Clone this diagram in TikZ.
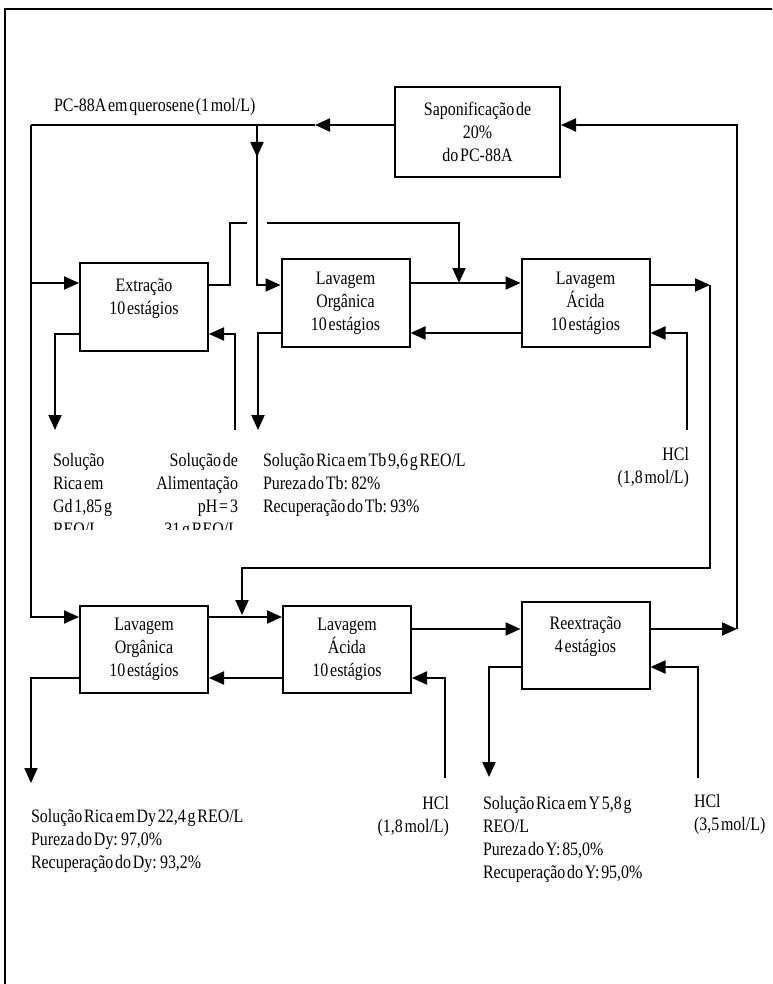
\documentclass[tikz,border=0pt]{standalone}
\usepackage{fontspec}
\setmainfont{Liberation Serif}[FakeStretch=0.84,WordSpace=0.45]
\usetikzlibrary{arrows.meta}

\begin{document}
\begin{tikzpicture}[x=10pt, y=-10pt, line width=2pt,
    every node/.style={font=\fontsize{19}{23}\selectfont},
    stage/.style={draw, align=center, inner sep=0pt, minimum width=128pt, minimum height=88pt},
    note/.style={align=left, inner sep=0pt},
    flow/.style={-{Triangle[length=15pt, width=13pt]}}]
    \useasboundingbox (0,0) rectangle (77.2,98.4);
    \clip (0,0) rectangle (77.2,98.4);
    \draw[line width=2.4pt] (0.5,0.9) rectangle (80,101);

    % stages
    \node[stage, minimum width=165pt, minimum height=90pt] (sap) at (47.75,13.2) {Saponificação de\\20\%\\do PC-88A};
    \node[stage] (ext) at (14.4,30.7) {};
    \node[align=center, inner sep=0pt] (extt) at (14.4,29.85) {Extração\\10 estágios};
    \node[stage] (lo1) at (34.55,30.3) {Lavagem\\Orgânica\\10 estágios};
    \node[stage] (la1) at (58.55,30.3) {Lavagem\\Ácida\\10 estágios};
    \node[stage, minimum height=87pt] (lo2) at (14.4,64.95) {Lavagem\\Orgânica\\10 estágios};
    \node[stage, minimum height=87pt] (la2) at (34.7,64.95) {Lavagem\\Ácida\\10 estágios};
    \node[stage, minimum height=87pt] (rex) at (58.55,64.55) {};
    \node[align=center, inner sep=0pt] (rext) at (58.55,63.65) {Reextração\\4 estágios};

    % free ends
    \coordinate (org) at (3.1,12.5);
    \coordinate (split) at (25.7,12.5);
    \coordinate (alim) at (23.5,43.0);
    \coordinate (gd) at (5.5,43.0);
    \coordinate (tb) at (25.8,43.0);
    \coordinate (hclA) at (68.7,43.0);
    \coordinate (dy) at (3.1,78.3);
    \coordinate (hclB) at (44.5,77.8);
    \coordinate (yy) at (48.9,77.7);
    \coordinate (hclC) at (69.8,77.8);

    % organic feed
    \draw[flow] (sap.west |- org) -- (31.5,12.5);
    \draw (org) -- (31.5,12.5);
    \draw[flow] (org) -- (3.1,61.7) -- (lo2.west |- 0,61.7);
    \draw[flow] (3.1,28.3) -- (ext.west |- 0,28.3);
    \draw[flow] (split) -- (25.7,15.7);
    \draw[flow] (25.7,15.5) -- (25.7,28.5) -- (lo1.west |- 0,28.5);

    % first bank
    \draw[flow] (ext.east |- 0,28.5) -- (23.0,28.5) -- (23.0,22.3) -- (24.7,22.3)
        (26.7,22.3) -- (45.9,22.3) -- (45.9,28.3);
    \draw[flow] (lo1.east |- 0,28.3) -- (la1.west |- 0,28.3);
    \draw[flow] (la1.west |- 0,33.3) -- (lo1.east |- 0,33.3);
    \draw[flow] (lo1.west |- 0,33.3) -- (tb |- 0,33.3) -- (tb);
    \draw[flow] (ext.west |- 0,33.4) -- (gd |- 0,33.4) -- (gd);
    \draw[flow] (alim) -- (alim |- 0,33.4) -- (ext.east |- 0,33.4);
    \draw[flow] (hclA) -- (hclA |- 0,33.3) -- (la1.east |- 0,33.3);
    \draw[flow] (la1.east |- 0,28.5) -- (71.0,28.5);
    \draw[flow] (71.0,28.5) -- (71.0,56.8) -- (24.2,56.8) -- (24.2,61.5);

    % second bank
    \draw[flow] (lo2.east |- 0,61.7) -- (la2.west |- 0,61.7);
    \draw[flow] (la2.east |- 0,62.9) -- (rex.west |- 0,62.9);
    \draw[flow] (rex.east |- 0,62.9) -- (73.7,62.9);
    \draw[flow] (73.7,62.9) -- (73.7,12.5) -- (sap.east |- 0,12.5);
    \draw[flow] (la2.west |- 0,67.8) -- (lo2.east |- 0,67.8);
    \draw[flow] (lo2.west |- 0,67.8) -- (dy |- 0,67.8) -- (dy);
    \draw[flow] (hclB) -- (hclB |- 0,67.8) -- (la2.east |- 0,67.8);
    \draw[flow] (rex.west |- 0,66.7) -- (yy |- 0,66.7) -- (yy);
    \draw[flow] (hclC) -- (hclC |- 0,66.7) -- (rex.east |- 0,66.7);

    % labels
    \node[anchor=base west, inner sep=0pt] (pcl) at (5.3,11.2) {PC-88A em querosene (1 mol/L)};
    \begin{scope}
        \clip (0,0) rectangle (77.2,52.9);
        \node[note, anchor=north west] (gdt) at (5.2,45.2) {Solução\\Rica em\\Gd 1,85 g\\REO/L};
        \node[note, align=right, anchor=north east] (alimt) at (23.9,45.2) {Solução de\\Alimentação\\pH = 3\\31 g REO/L};
    \end{scope}
    \node[note, anchor=north west] (tbt) at (26.2,45.2) {Solução Rica em Tb 9,6 g REO/L\\Pureza do Tb: 82\%\\Recuperação do Tb: 93\%};
    \node[note, align=right, anchor=north east] (hclAt) at (69.0,44.6) {HCl\\(1,8 mol/L)};
    \node[note, anchor=north west] (dyt) at (3.0,80.8) {Solução Rica em Dy 22,4 g REO/L\\Pureza do Dy: 97,0\%\\Recuperação do Dy: 93,2\%};
    \node[note, align=right, anchor=north east] (hclBt) at (45.0,79.5) {HCl\\(1,8 mol/L)};
    \node[note, anchor=north west] (yt) at (48.2,79.5) {Solução Rica em Y 5,8 g\\REO/L\\Pureza do Y: 85,0\%\\Recuperação do Y: 95,0\%};
    \node[note, anchor=north west] (hclCt) at (69.3,79.3) {HCl\\(3,5 mol/L)};
\end{tikzpicture}
\end{document}
